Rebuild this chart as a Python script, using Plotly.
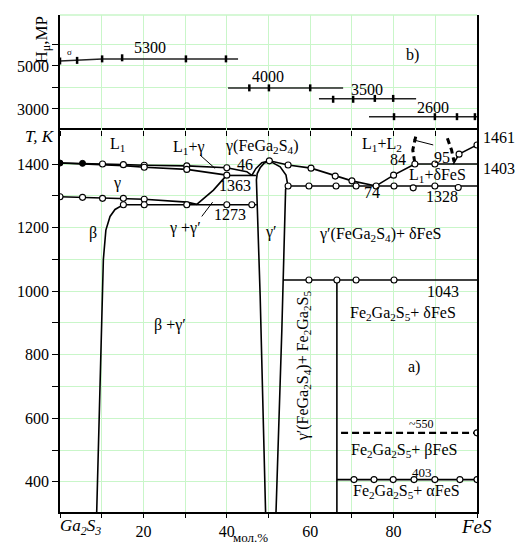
import plotly.graph_objects as go

# ---------------- data (mol.% FeS, T in K) ----------------
liq_left_x = [0, 5.4, 10.2, 15.2, 20.2, 30.4, 40.0, 44.8, 46.0]
liq_left_T = [1403, 1402, 1400, 1398, 1396, 1394, 1388, 1376, 1364]
sol_left_x = [0, 10.2, 15.2, 20.2, 30.4, 40.0]
sol_left_T = [1403, 1398, 1395, 1390, 1383, 1365]
gam_low_x = [0, 5.4, 10.2, 15.2, 20.2, 30.4, 32.8]
gam_low_T = [1297, 1295, 1292, 1292, 1289, 1280, 1273]
gg_x = [32.8, 34.8, 36.8, 38.5, 40.0]
gg_T = [1273, 1297, 1318, 1343, 1365]
iso1363_x = [40.0, 47.0]
iso1363_T = [1364, 1364]
iso1273_x = [15.2, 47.2]
iso1273_T = [1272, 1272]
beta_x = [8.8, 10.0, 10.4, 11.0, 12.0, 13.2, 14.4, 15.2]
beta_T = [305, 900, 1100, 1192, 1235, 1257, 1266, 1272]
gp_liq_x = [46.0, 47.0, 48.4, 50.2]
gp_liq_T = [1364, 1386, 1404, 1410]
gp_left_x = [49.3, 48.0, 47.1, 47.3, 48.0, 48.9, 50.2]
gp_left_T = [305, 985, 1350, 1370, 1388, 1402, 1410]
gp_right_x = [50.2, 52.8, 54.2, 54.6, 54.1, 53.5, 53.2, 51.8]
gp_right_T = [1410, 1391, 1365, 1335, 1320, 1035, 878, 305]
liq_right_x = [50.2, 54.7, 60.2, 66.0, 70.0, 75.8]
liq_right_T = [1410, 1397, 1387, 1362, 1347, 1331]
eut_x = [54.7, 100]
eut_T = [1331, 1331]
liq_fes_x = [75.8, 80.0, 85.1]
liq_fes_T = [1331, 1365, 1400]
mono_x = [85.1, 100]
mono_T = [1400, 1400]
liq_fes2_x = [94.3, 95.7, 100]
liq_fes2_T = [1400, 1431, 1460]
gap_left_x = [85.3, 84.6, 85.1]
gap_left_T = [1486, 1444, 1402]
gap_right_x = [92.9, 93.9, 94.5]
gap_right_T = [1481, 1444, 1407]
iso1043_x = [53.5, 100]
iso1043_T = [1035, 1035]
fe2_x = [66.4, 66.4]
fe2_T = [1035, 305]
iso550_x = [67.4, 100]
iso550_T = [554, 554]
iso403_x = [66.4, 100]
iso403_T = [407, 407]
lead1_x = [33.6, 37.2]
lead1_T = [1428, 1386]
lead2_x = [34.0, 36.6]
lead2_T = [1235, 1280]
lead3_x = [84.7, 89.5]
lead3_T = [1476, 1460]

filled_x = [0, 5.4]
filled_T = [1403, 1402]
open_x = [10.2, 15.2, 20.2, 30.4, 40.0,
          20.2, 30.4, 40.0,
          0, 5.4, 10.2, 15.2, 20.2,
          15.2, 20.2, 30.4, 40.0, 46.0,
          50.2, 54.7, 60.2, 66.0, 70.0, 75.8,
          54.7, 59.7, 66.2, 71.0, 80.1, 84.7, 89.9, 95.5,
          80.0, 85.1, 89.9, 95.7, 100,
          59.7, 66.4, 71.0, 80.1,
          100,
          70.5, 75.3, 79.9, 84.9, 89.9, 95.9, 100]
open_T = [1400, 1398, 1396, 1394, 1388,
          1390, 1383, 1365,
          1297, 1295, 1292, 1292, 1289,
          1272, 1272, 1272, 1272, 1272,
          1410, 1397, 1387, 1362, 1347, 1331,
          1331, 1331, 1331, 1331, 1331, 1325, 1331, 1326,
          1365, 1400, 1400, 1431, 1460,
          1035, 1035, 1035, 1035,
          554,
          407, 407, 407, 407, 407, 407, 407]

# microhardness (top panel)
h1_x = [0, 4.1, 10.1, 42.7]
h1_v = [5230, 5260, 5330, 5330]
h1_px = [0, 4.1, 10.1, 14.9, 30.2, 39.8]
h1_pv = [5230, 5260, 5330, 5380, 5330, 5330]
h2_x = [40.3, 67.9]
h2_v = [3980, 3980]
h2_px = [45.4, 50.1, 60.0]
h2_pv = [3980, 3980, 3980]
h3_x = [62.1, 85.4]
h3_v = [3480, 3480]
h3_px = [65.5, 70.3, 75.5, 79.9]
h3_pv = [3450, 3450, 3490, 3490]
h4_x = [74.1, 100]
h4_v = [2640, 2640]
h4_px = [80.1, 89.9, 95.2, 99.5]
h4_pv = [2640, 2640, 2640, 2640]

T_ticks = list(range(400, 1500, 100))
T_labels = [str(t) if t % 200 == 0 else "" for t in T_ticks]
x_ticks = list(range(0, 101, 10))
x_labels = ["", "", "20", "", "40", "", "60", "", "80", "", ""]
H_ticks = [3000, 4000, 5000, 6000]
H_labels = ["3000", "", "5000", ""]

FONT = "Liberation Serif, Times New Roman, DejaVu Serif, serif"
GRID = "#c9f6c9"
FS = 16
fig = go.Figure()

def line(x, y, w=1.6, dash=None, color="black", ax="bot"):
    fig.add_trace(go.Scatter(
        x=x, y=y, mode="lines",
        line=dict(color=color, width=w, dash=dash),
        xaxis="x" if ax == "bot" else "x2",
        yaxis="y" if ax == "bot" else "y2",
        showlegend=False, hoverinfo="skip"))

for xs, ys in [(liq_left_x, liq_left_T), (sol_left_x, sol_left_T),
               (gam_low_x, gam_low_T), (gg_x, gg_T),
               (iso1363_x, iso1363_T), (iso1273_x, iso1273_T),
               (beta_x, beta_T), (gp_liq_x, gp_liq_T),
               (gp_left_x, gp_left_T), (gp_right_x, gp_right_T),
               (liq_right_x, liq_right_T), (eut_x, eut_T),
               (liq_fes_x, liq_fes_T), (mono_x, mono_T),
               (liq_fes2_x, liq_fes2_T), (iso1043_x, iso1043_T),
               (fe2_x, fe2_T), (iso403_x, iso403_T)]:
    line(xs, ys)
for xs, ys in [(lead1_x, lead1_T), (lead2_x, lead2_T), (lead3_x, lead3_T)]:
    line(xs, ys, w=1.0)
line(gap_left_x, gap_left_T, w=3, dash="6px,4px")
line(gap_right_x, gap_right_T, w=3, dash="6px,4px")
line(iso550_x, iso550_T, w=2.4, dash="7px,4px")

fig.add_trace(go.Scatter(x=open_x, y=open_T, mode="markers",
                         marker=dict(symbol="circle", size=6, color="white",
                                     line=dict(color="black", width=1.1)),
                         showlegend=False, hoverinfo="skip"))
fig.add_trace(go.Scatter(x=filled_x, y=filled_T, mode="markers",
                         marker=dict(symbol="circle", size=6, color="black",
                                     line=dict(color="black", width=1)),
                         showlegend=False, hoverinfo="skip"))

# top panel
for xs, ys in [(h1_x, h1_v), (h2_x, h2_v), (h3_x, h3_v), (h4_x, h4_v)]:
    line(xs, ys, w=1.5, color="#222222", ax="top")
for xs, ys in [(h1_px, h1_pv), (h2_px, h2_pv), (h3_px, h3_pv), (h4_px, h4_pv)]:
    fig.add_trace(go.Scatter(x=xs, y=ys, mode="markers", xaxis="x2", yaxis="y2",
                             marker=dict(symbol="line-ns", size=5,
                                         line=dict(color="black", width=2.5)),
                             showlegend=False, hoverinfo="skip"))

ann = []
def txt(x, y, t, size=FS, ax="bot", **kw):
    d = dict(x=x, y=y, text=t, showarrow=False,
             xref="x" if ax == "bot" else "x2",
             yref="y" if ax == "bot" else "y2",
             font=dict(family=FONT, size=size, color="black"))
    d.update(kw)
    ann.append(d)

txt(13.9, 1460, "L<sub>1</sub>")
txt(30.7, 1452, "L<sub>1</sub>+γ")
txt(48.4, 1454, "γ(FeGa<sub>2</sub>S<sub>4</sub>)")
txt(44.4, 1400, "46")
txt(42.0, 1332, "1363")
txt(13.7, 1340, "γ")
txt(40.8, 1242, "1273")
txt(30.0, 1199, "γ +γ′")
txt(7.9, 1183, "β")
txt(26.4, 893, "β +γ′")
txt(50.6, 1186, "γ′")
txt(77.1, 1460, "L<sub>1</sub>+L<sub>2</sub>")
txt(81.1, 1414, "84")
txt(91.6, 1419, "95")
txt(90.6, 1363, "L<sub>1</sub>+δFeS")
txt(74.8, 1310, "74")
txt(91.6, 1297, "1328")
txt(76.7, 1177, "γ′(FeGa<sub>2</sub>S<sub>4</sub>)+ δFeS")
txt(91.8, 1000, "1043")
txt(58.4, 765, "γ′(FeGa<sub>2</sub>S<sub>4</sub>)+ Fe<sub>2</sub>Ga<sub>2</sub>S<sub>5</sub>", textangle=-90)
txt(82.3, 931, "Fe<sub>2</sub>Ga<sub>2</sub>S<sub>5</sub>+ δFeS")
txt(84.9, 761, "a)")
txt(86.8, 582, "~550", size=12)
txt(82.5, 497, "Fe<sub>2</sub>Ga<sub>2</sub>S<sub>5</sub>+ βFeS")
txt(86.8, 428, "403", size=13)
txt(83.2, 368, "Fe<sub>2</sub>Ga<sub>2</sub>S<sub>5</sub>+ αFeS")

txt(21.6, 5840, "5300", ax="top")
txt(49.9, 4510, "4000", ax="top")
txt(73.5, 3900, "3500", ax="top")
txt(89.4, 3060, "2600", ax="top")
txt(84.5, 5500, "b)", ax="top")
txt(2.2, 5650, "σ", size=9, ax="top")

L, R, T_, B = 60, 42, 15, 31
PW, PH = 519 - L - R, 543 - T_ - B
def p2(px, py, t, size=FS, **kw):
    d = dict(x=(px - L) / PW, y=1 - (py - T_) / PH, text=t, showarrow=False,
             xref="paper", yref="paper", xanchor="center", yanchor="middle",
             font=dict(family=FONT, size=size, color="black"))
    d.update(kw)
    ann.append(d)

p2(499, 137, "1461")
p2(499, 168, "1403")
p2(80.5, 527, "<i>Ga</i><sub><i>2</i></sub><i>S</i><sub><i>3</i></sub>", size=17)
p2(476, 526, "<i>FeS</i>", size=19)
p2(250, 537, "мол.%", size=13)
p2(39.5, 136, "<i>T, K</i>", size=17)
p2(42.5, 40, "H<sub>μ</sub>,MP", size=17, textangle=-90)

split = 382 / 497
fig.update_layout(
    width=519, height=543,
    margin=dict(l=L, r=R, t=T_, b=B, autoexpand=False),
    paper_bgcolor="white", plot_bgcolor="white",
    font=dict(family=FONT, size=FS, color="black"),
    showlegend=False,
    annotations=ann,
    xaxis=dict(domain=[0, 1], range=[0, 100], tickvals=x_ticks, ticktext=x_labels,
               ticks="outside", ticklen=4, tickcolor="black",
               showline=True, linecolor="black", linewidth=1.5, mirror=True,
               showgrid=True, gridcolor=GRID, gridwidth=1, zeroline=False,
               tickfont=dict(family=FONT, size=FS)),
    yaxis=dict(domain=[0, split], range=[305, 1507], tickvals=T_ticks, ticktext=T_labels,
               ticks="outside", ticklen=6, tickcolor="black",
               showline=True, linecolor="black", linewidth=1.5, mirror=True,
               showgrid=True, gridcolor=GRID, gridwidth=1, zeroline=False,
               tickfont=dict(family=FONT, size=FS)),
    xaxis2=dict(domain=[0, 1], range=[0, 100], anchor="y2", tickvals=x_ticks,
                showticklabels=False, ticks="outside", ticklen=5, tickcolor="black",
                showline=False,
                showgrid=True, gridcolor=GRID, gridwidth=1, zeroline=False),
    yaxis2=dict(domain=[split, 1], range=[2020, 7372], anchor="x2",
                tickvals=H_ticks, ticktext=H_labels,
                ticks="outside", ticklen=6, tickcolor="black",
                showline=True, linecolor="black", linewidth=1.5, mirror=True,
                showgrid=True, gridcolor=GRID, gridwidth=1, zeroline=False,
                tickfont=dict(family=FONT, size=FS)),
    shapes=[dict(type="line", xref="x2 domain", yref="y2 domain",
                 x0=0, x1=1, y0=1, y1=1, line=dict(color=GRID, width=1.5))],
)

fig.write_html("out.html", config={"displayModeBar": False},
               post_script="document.body.style.margin='0px';")
